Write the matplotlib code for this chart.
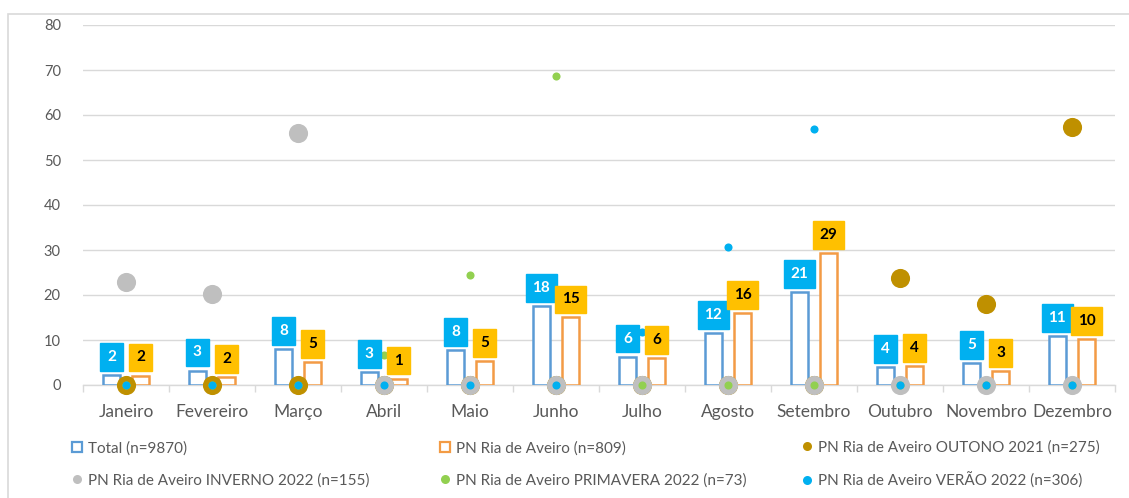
import matplotlib
matplotlib.use("Agg")
import matplotlib.pyplot as plt
from matplotlib.lines import Line2D
from matplotlib.patches import Rectangle
import numpy as np

plt.rcParams['font.family'] = ['Lato', 'DejaVu Sans']

months = ['Janeiro', 'Fevereiro', 'Março', 'Abril', 'Maio', 'Junho', 'Julho',
          'Agosto', 'Setembro', 'Outubro', 'Novembro', 'Dezembro']
total = [2.2, 3.2, 7.9, 2.9, 7.8, 17.6, 6.3, 11.6, 20.6, 3.9, 4.9, 10.9]
pn_ria = [2.1, 1.7, 5.1, 1.4, 5.3, 15.0, 6.0, 15.9, 29.3, 4.2, 3.1, 10.2]
outono = [0, 0, 0, 0, 0, 0, 0, 0, 0, 23.7, 17.9, 57.4]
inverno = [22.9, 20.2, 55.9, 0, 0, 0, 0, 0, 0, 0, 0, 0]
primavera = [0, 0, 0, 6.6, 24.4, 68.7, 0, 0, 0, 0, 0, 0]
verao = [0, 0, 0, 0, 0, 0, 11.8, 30.7, 56.9, 0, 0, 0]
yticks = [0, 10, 20, 30, 40, 50, 60, 70, 80]

names = ['Total (n=9870)', 'PN Ria de Aveiro (n=809)',
         'PN Ria de Aveiro OUTONO 2021 (n=275)', 'PN Ria de Aveiro INVERNO 2022 (n=155)',
         'PN Ria de Aveiro PRIMAVERA 2022 (n=73)', 'PN Ria de Aveiro VERÃO 2022 (n=306)']

C_TOT = '#5B9BD5'
C_PN = '#F39B45'
C_OUT = '#BF9000'
C_INV = '#BFBFBF'
C_PRI = '#92D050'
C_VER = '#00B0F0'
C_LBL_B = '#00B0F0'
C_LBL_O = '#FFC000'
TXT = '#595959'
GRID = '#D9D9D9'

W, H = 1129, 498
fig = plt.figure(figsize=(W / 100, H / 100), dpi=100)
fig.patch.set_facecolor('white')

# outer chart border
fig.patches.append(Rectangle((8 / W, -0.2), 2.0, 1 - 14 / H + 0.2, transform=fig.transFigure,
                             fill=False, edgecolor=GRID, linewidth=1.2, zorder=0))

ax = fig.add_axes([83 / W, 1 - 385 / H, (1115 - 83) / W, (385 - 25) / H])
x = np.arange(len(months))
bw = 0.19
off = 0.17

ax.bar(x - off, total, width=bw, facecolor='white', edgecolor=C_TOT, linewidth=1.8, zorder=2)
ax.bar(x + off, pn_ria, width=bw, facecolor='white', edgecolor=C_PN, linewidth=1.8, zorder=2)

ax.scatter(x, outono, s=190, color=C_OUT, zorder=3, clip_on=False, linewidths=0)
ax.scatter(x, inverno, s=190, color=C_INV, zorder=4, clip_on=False, linewidths=0)
ax.scatter(x, primavera, s=34, color=C_PRI, zorder=5, clip_on=False, linewidths=0)
ax.scatter(x, verao, s=34, color=C_VER, zorder=6, clip_on=False, linewidths=0)

for xi, v in zip(x, total):
    ax.annotate(f"{v:.0f}", (xi - off, v), xytext=(0, 8), textcoords='offset points',
                ha='center', va='bottom', fontsize=11, fontweight='bold', color='white',
                bbox=dict(boxstyle='square,pad=0.45', facecolor=C_LBL_B, edgecolor=C_LBL_B),
                zorder=10, annotation_clip=False)
for xi, v in zip(x, pn_ria):
    ax.annotate(f"{v:.0f}", (xi + off, v), xytext=(0, 8), textcoords='offset points',
                ha='center', va='bottom', fontsize=11, fontweight='bold', color='black',
                bbox=dict(boxstyle='square,pad=0.45', facecolor=C_LBL_O, edgecolor=C_LBL_O),
                zorder=11, annotation_clip=False)

ax.set_xlim(-0.5, len(months) - 0.5)
ax.set_ylim(0, 80)
ax.set_yticks(yticks)
ax.set_yticklabels([str(t) for t in yticks], fontsize=10.5, color=TXT)
ax.set_xticks(x)
ax.set_xticklabels(months, fontsize=12.5, color=TXT)
ax.set_xticks(np.arange(-0.5, len(months) + 0.5, 1), minor=True)
ax.tick_params(axis='x', which='major', length=0, pad=14)
ax.tick_params(axis='x', which='minor', length=5, color=GRID, width=1)
ax.tick_params(axis='y', length=0, pad=16)
ax.grid(axis='y', color=GRID, linewidth=1, zorder=0)
ax.set_axisbelow(True)
for s in ['top', 'right', 'left']:
    ax.spines[s].set_visible(False)
ax.spines['bottom'].set_color(GRID)
ax.spines['bottom'].set_linewidth(1)
ax.spines['bottom'].set_zorder(1)

def sq(c):
    return Line2D([], [], marker='s', linestyle='none', markersize=6.5, markerfacecolor='white',
                  markeredgecolor=c, markeredgewidth=1.6)

def dot(c):
    return Line2D([], [], marker='o', linestyle='none', markersize=6.5, markerfacecolor=c,
                  markeredgewidth=0)

cols = [
    ([sq(C_TOT), dot(C_INV)], [names[0], names[3]], 72),
    ([sq(C_PN), dot(C_PRI)], [names[1], names[4]], 440),
    ([dot(C_OUT), dot(C_VER)], [names[2], names[5]], 802),
]
for hs, ls, px in cols:
    fig.legend(hs, ls, loc='center left', bbox_to_anchor=(px / W, 1 - 464.5 / H),
               frameon=False, fontsize=11, labelcolor=TXT, handlelength=0.7,
               handletextpad=0.35, labelspacing=1.15, borderpad=0, borderaxespad=0)

fig.savefig('out.png', dpi=100, facecolor='white')
